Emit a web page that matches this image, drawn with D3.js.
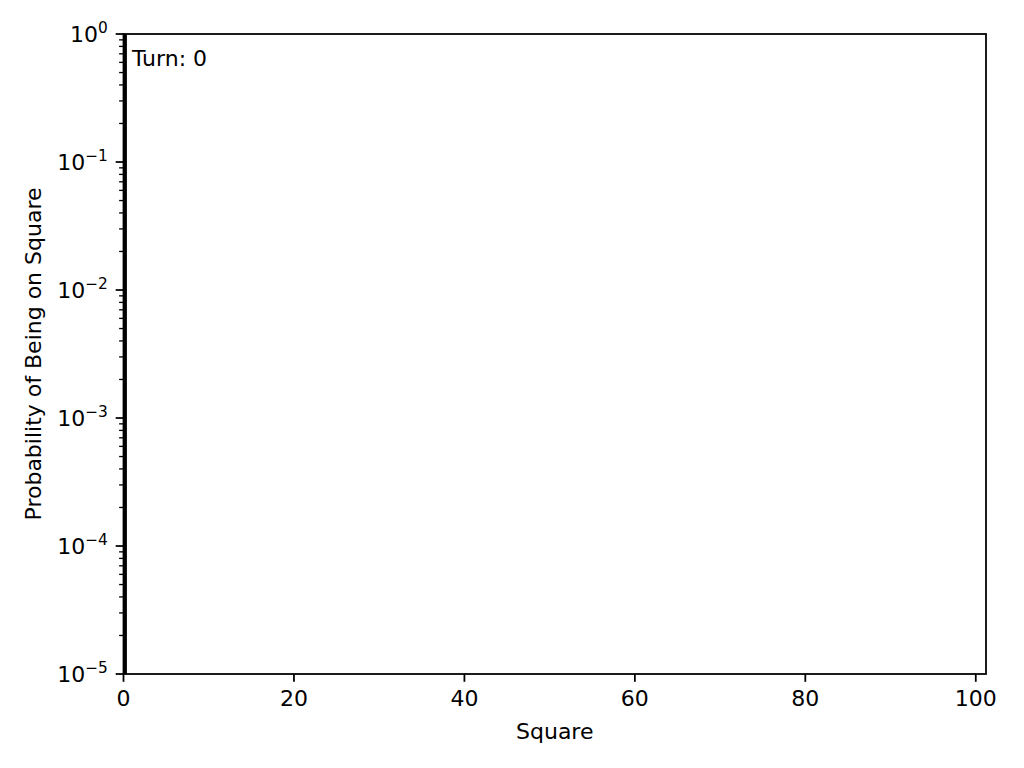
<!DOCTYPE html>
<html>
<head>
<meta charset="utf-8">
<script src="https://cdn.jsdelivr.net/npm/d3@7"></script>
<style>
  html, body { margin: 0; padding: 0; background: #fff; }
  svg { display: block; }
  text { font-family: "DejaVu Sans", sans-serif; fill: #000; }
</style>
</head>
<body>
<svg id="chart" width="1024" height="768"></svg>
<script>
// Data
const squares = [0];
const probabilities = [1];
const turn = 0;
const xTicks = [0, 20, 40, 60, 80, 100];
const yTickExponents = [0, -1, -2, -3, -4, -5];
const xLabel = "Square";
const yLabel = "Probability of Being on Square";

const W = 1024, H = 768;
const margin = { left: 123.5, right: 1024 - 986, top: 34, bottom: 768 - 674 };
const svg = d3.select("#chart");

const x = d3.scaleLinear().domain([0, 101.2]).range([margin.left, W - margin.right]);
const y = d3.scaleLog().domain([1e-5, 1]).range([H - margin.bottom, margin.top]);

const fs = 22;
const lw = 1.78;

// clip
svg.append("clipPath").attr("id", "clip").append("rect")
  .attr("x", margin.left).attr("y", margin.top)
  .attr("width", x.range()[1] - x.range()[0])
  .attr("height", y.range()[0] - y.range()[1]);

// Bars
const barW = 0.8;
svg.append("g").attr("clip-path", "url(#clip)")
  .selectAll("rect").data(squares.map((s, i) => ({ s, p: probabilities[i] })))
  .join("rect")
  .attr("x", d => x(d.s - barW / 2))
  .attr("width", d => x(d.s + barW / 2) - x(d.s - barW / 2))
  .attr("y", d => y(d.p))
  .attr("height", d => y(1e-5) - y(d.p))
  .attr("fill", "#000");

// X axis
const xAxis = svg.append("g").attr("transform", `translate(0,${H - margin.bottom})`);
xAxis.selectAll("line.tick").data(xTicks).join("line")
  .attr("x1", d => x(d)).attr("x2", d => x(d))
  .attr("y1", 0).attr("y2", 7.8)
  .attr("stroke", "#000").attr("stroke-width", lw);
xAxis.selectAll("text").data(xTicks).join("text")
  .attr("x", d => x(d)).attr("y", 7.8 + 7.8 + fs * 0.76)
  .attr("text-anchor", "middle").attr("font-size", fs)
  .text(d => d);

// Y axis major ticks
const yAxis = svg.append("g");
yAxis.selectAll("line.major").data(yTickExponents).join("line").attr("class", "major")
  .attr("x1", margin.left - 7.8).attr("x2", margin.left)
  .attr("y1", d => y(Math.pow(10, d))).attr("y2", d => y(Math.pow(10, d)))
  .attr("stroke", "#000").attr("stroke-width", lw);

// minor ticks
const minors = [];
for (let e = -5; e < 0; e++) for (let m = 2; m <= 9; m++) minors.push(m * Math.pow(10, e));
yAxis.selectAll("line.minor").data(minors).join("line").attr("class", "minor")
  .attr("x1", margin.left - 4.4).attr("x2", margin.left)
  .attr("y1", d => y(d)).attr("y2", d => y(d))
  .attr("stroke", "#000").attr("stroke-width", 1.33);

// y tick labels with superscript
const lab = yAxis.selectAll("text").data(yTickExponents).join("text")
  .attr("x", margin.left - 7.8 - 7.8)
  .attr("y", d => y(Math.pow(10, d)) + fs * 0.36)
  .attr("text-anchor", "end").attr("font-size", fs);
lab.append("tspan").text("10");
lab.append("tspan").attr("dy", -fs * 0.42).attr("font-size", fs * 0.7)
  .text(d => d === 0 ? "0" : "\u2212" + Math.abs(d));

// spines
svg.append("rect")
  .attr("x", margin.left).attr("y", margin.top)
  .attr("width", x.range()[1] - x.range()[0])
  .attr("height", y.range()[0] - y.range()[1])
  .attr("fill", "none").attr("stroke", "#000").attr("stroke-width", lw);

// labels
svg.append("text").attr("x", (x.range()[0] + x.range()[1]) / 2).attr("y", 739)
  .attr("text-anchor", "middle").attr("font-size", fs).text(xLabel);
svg.append("text")
  .attr("transform", `translate(41,${(y.range()[0] + y.range()[1]) / 2}) rotate(-90)`)
  .attr("text-anchor", "middle").attr("font-size", fs).text(yLabel);

// Turn annotation
svg.append("text").attr("x", 132).attr("y", 66)
  .attr("font-size", fs).text("Turn: " + turn);
</script>
</body>
</html>
